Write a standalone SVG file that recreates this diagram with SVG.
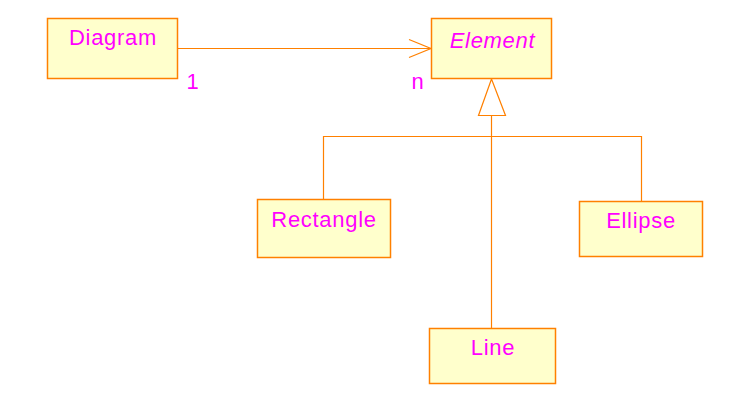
<svg xmlns="http://www.w3.org/2000/svg" width="751" height="408" viewBox="0 0 751 408">
<style>
.box{fill:#FFFFCC;stroke:#FF8000;stroke-width:1.5}
.ln{fill:none;stroke:#FF8000;stroke-width:1.2}
.t{font-family:"Liberation Sans",Arial,sans-serif;font-size:22px;letter-spacing:0.7px;fill:#FF00FF;text-anchor:middle}
</style>
<rect width="751" height="408" fill="#FFFFFF"/>
<g id="connectors">
<line class="ln" x1="177.5" y1="48.5" x2="431" y2="48.5"/>
<polyline class="ln" points="409,39.5 431,48.5 409,57.5"/>
<text class="t" x="193" y="89">1</text>
<text class="t" x="418" y="89">n</text>
<polygon class="ln" points="491.5,79 478.5,115.5 505.5,115.5"/>
<line class="ln" x1="491.5" y1="115.5" x2="491.5" y2="328"/>
<polyline class="ln" points="323.5,199.5 323.5,136.5 641.5,136.5 641.5,201.5"/>
</g>
<g id="Diagram">
<rect class="box" x="47.5" y="18.5" width="130" height="60"/>
<text class="t" x="113" y="45">Diagram</text>
</g>
<g id="Element">
<rect class="box" x="431.5" y="18.5" width="120" height="60"/>
<text class="t" x="492.5" y="47.5" font-style="italic">Element</text>
</g>
<g id="Rectangle">
<rect class="box" x="257.5" y="199.5" width="133" height="58"/>
<text class="t" x="324" y="226.5">Rectangle</text>
</g>
<g id="Ellipse">
<rect class="box" x="579.5" y="201.5" width="123" height="55"/>
<text class="t" x="641" y="227.5">Ellipse</text>
</g>
<g id="Line">
<rect class="box" x="429.5" y="328.5" width="126" height="55"/>
<text class="t" x="493" y="354.5">Line</text>
</g>
</svg>
